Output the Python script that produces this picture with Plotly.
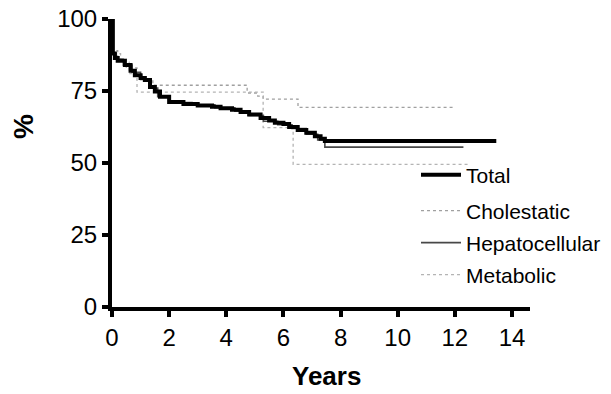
import plotly.graph_objects as go

# ---- data ----
total_t = [0, 0.03, 0.1, 0.2, 0.45, 0.65, 0.8, 1.0, 1.15, 1.33, 1.5, 1.68, 2.0, 2.5, 3.0, 3.5, 3.8, 4.2,
           4.5, 4.8, 5.2, 5.5, 5.7, 6.0, 6.2, 6.5, 6.8, 7.1, 7.3, 7.45, 13.45]
total_v = [100, 88, 86.5, 85.5, 84, 82, 80.5, 79.5, 78.8, 76.4, 74.8, 73, 71.2, 70.5, 70, 69.5, 69, 68.5,
           67.7, 66.8, 65.6, 64.8, 64, 63.5, 62.5, 61.5, 60.5, 59.3, 58.4, 57.6, 57.6]

chol_t = [0, 0.03, 0.2, 0.5, 0.875, 1.15, 1.43, 4.73, 5.1, 5.29, 6.51, 12.0]
chol_v = [100, 89, 86, 83, 80.5, 78.5, 77, 74.3, 73.2, 72.2, 69.3, 69.3]

hep_t = [0, 0.03, 0.15, 0.4, 0.7, 1.0, 1.3, 1.6, 2.0, 2.8, 3.6, 4.3, 4.8, 5.3, 5.8, 6.3, 6.8, 7.2, 7.45, 12.3]
hep_v = [100, 88, 86, 84, 81.5, 79, 76, 73, 71, 70.2, 69.2, 68, 66.5, 64.5, 63.3, 62, 60, 58, 55.5, 55.5]

met_t = [0, 0.03, 0.3, 0.6, 0.875, 5.29, 6.34, 12.46]
met_v = [100, 88, 85, 81, 74.6, 62.3, 49.5, 49.5]

x_ticks = [0, 2, 4, 6, 8, 10, 12, 14]
y_ticks = [0, 25, 50, 75, 100]

FONT = "Liberation Sans, Arial, Helvetica, sans-serif"

fig = go.Figure()

series = [
    ("Cholestatic", chol_t, chol_v, dict(color="#a0a0a0", width=1.3, dash="dot"), "legend2"),
    ("Metabolic", met_t, met_v, dict(color="#b4b4b4", width=1.3, dash="dot"), "legend4"),
    ("Hepatocellular", hep_t, hep_v, dict(color="#484848", width=1.6), "legend3"),
    ("Total", total_t, total_v, dict(color="#000000", width=4), "legend"),
]
for name, t, v, line, lg in series:
    fig.add_trace(go.Scatter(x=t, y=v, mode="lines", name=name, line=dict(shape="hv", **line),
                             legend=lg, showlegend=True))

L, R, T, B = 112, 81, 19, 87
W, H = 611, 394
pw, ph = W - L - R, H - T - B

def legend_at(py):
    return dict(xref="container", yref="container",
                x=416 / W, xanchor="left", y=(H - py) / H, yanchor="middle",
                font=dict(family=FONT, size=21, color="#000"), bgcolor="rgba(0,0,0,0)",
                borderwidth=0, itemwidth=40)

fig.update_layout(
    width=W, height=H,
    margin=dict(l=L, r=R, t=T, b=B, autoexpand=False),
    paper_bgcolor="white", plot_bgcolor="white",
    font=dict(family=FONT, color="#000"),
    showlegend=True,
    legend=legend_at(175),
    legend2=legend_at(211),
    legend3=legend_at(243),
    legend4=legend_at(275),
    xaxis=dict(range=[0, 14.63], tickvals=x_ticks, ticktext=[str(v) for v in x_ticks],
               showgrid=False, zeroline=False, showline=True, linecolor="#000", linewidth=4,
               ticks="outside", ticklen=6, tickwidth=4, tickcolor="#000",
               tickfont=dict(family=FONT, size=24, color="#000")),
    yaxis=dict(range=[0, 100], tickvals=y_ticks, ticktext=[str(v) for v in y_ticks],
               showgrid=False, zeroline=False, showline=True, linecolor="#000", linewidth=4,
               ticks="outside", ticklen=6, tickwidth=4, tickcolor="#000",
               tickfont=dict(family=FONT, size=24, color="#000")),
    annotations=[
        dict(text="<b>Years</b>", xref="paper", yref="paper", x=(326 - L) / pw, y=(H - B - 376) / ph,
             showarrow=False, font=dict(family=FONT, size=26, color="#000"),
             xanchor="center", yanchor="middle"),
        dict(text="<b>%</b>", xref="paper", yref="paper", x=(23 - L) / pw, y=(H - B - 127) / ph,
             showarrow=False, textangle=-90, font=dict(family=FONT, size=28, color="#000"),
             xanchor="center", yanchor="middle"),
    ],
)

fig.write_html("out.html")
